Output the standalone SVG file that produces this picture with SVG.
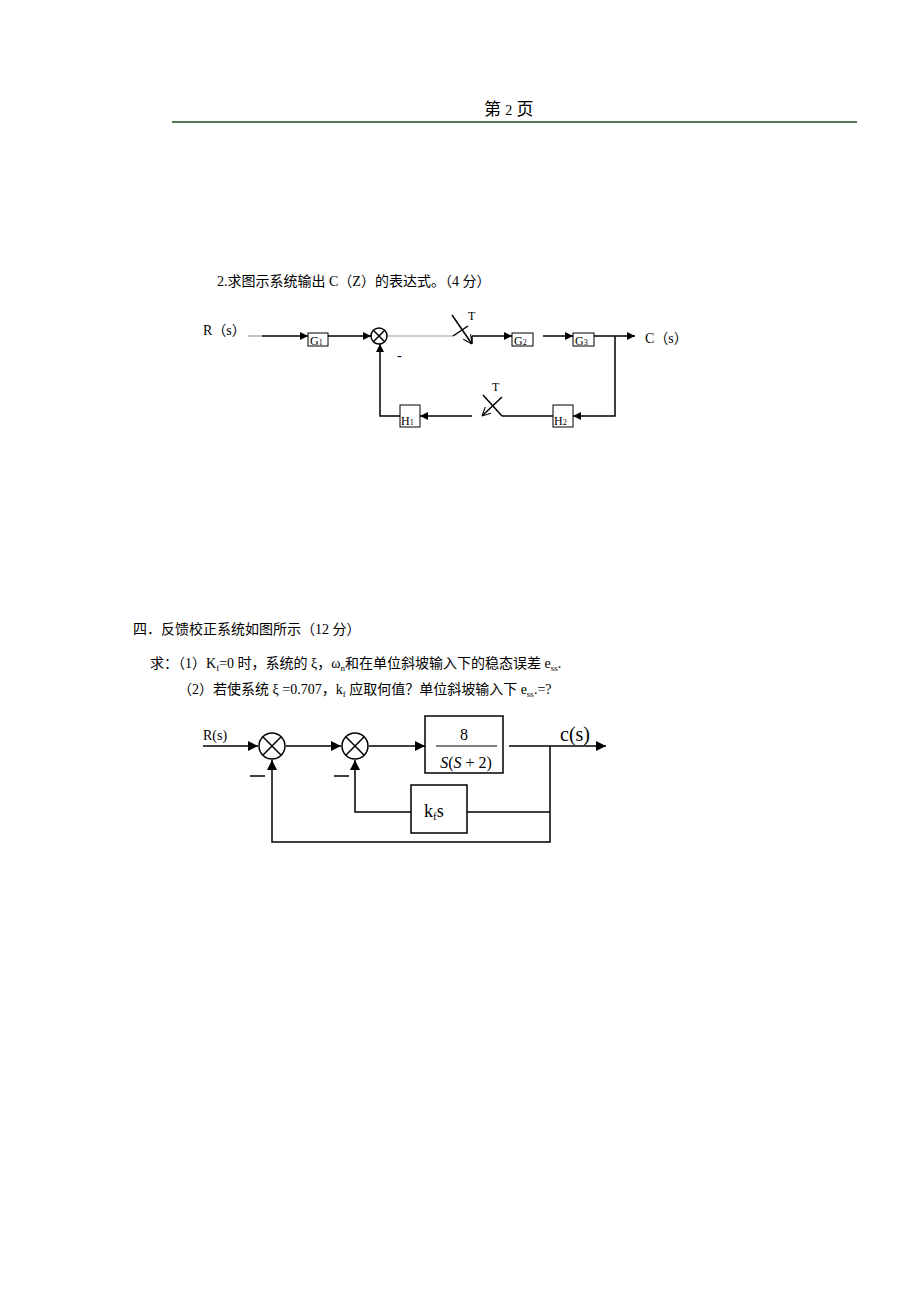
<svg xmlns="http://www.w3.org/2000/svg" width="920" height="1302" viewBox="0 0 920 1302">
<style>
text{font-family:"Liberation Serif","Noto Sans CJK SC",serif;fill:#000}
.t{font-size:14px}
.ln{stroke:#000;stroke-width:1.5;fill:none}
.g{stroke:#999;stroke-width:1.2;fill:none}
.bx{fill:#fff;stroke:#000;stroke-width:1}
.bx2{fill:#fff;stroke:#000;stroke-width:1.5}
.lb{font-size:12px}
</style>
<defs>
<marker id="a" viewBox="0 0 10 10" refX="10" refY="5" markerWidth="8" markerHeight="8" markerUnits="userSpaceOnUse" orient="auto"><path d="M0,0L10,5L0,10z" fill="#000"/></marker>
<marker id="b" viewBox="0 0 10 10" refX="10" refY="5" markerWidth="10" markerHeight="10" markerUnits="userSpaceOnUse" orient="auto"><path d="M0,0L10,5L0,10z" fill="#000"/></marker>
<marker id="v" viewBox="0 0 10 10" refX="10" refY="5" markerWidth="9" markerHeight="9" markerUnits="userSpaceOnUse" orient="auto"><path d="M0,0L10,5L0,10" fill="none" stroke="#000" stroke-width="1.2"/></marker>
</defs>
<text x="484" y="115" font-size="17">第 <tspan font-size="14">2</tspan> 页</text>
<line x1="172" y1="122" x2="857" y2="122" stroke="#1a4d1a" stroke-width="1.5"/>
<text class="t" x="217" y="286">2.求图示系统输出 C（Z）的表达式。（4 分）</text>
<g id="conn1">
<line class="g" x1="248" y1="336" x2="262" y2="336"/>
<line class="ln" x1="262" y1="336" x2="308" y2="336" marker-end="url(#a)"/>
<line class="ln" x1="328" y1="336" x2="371" y2="336" marker-end="url(#a)"/>
<line class="g" x1="387" y1="336" x2="453" y2="336"/>
<line class="ln" x1="472" y1="336" x2="512" y2="336" marker-end="url(#a)"/>
<line class="ln" x1="543" y1="336" x2="573" y2="336" marker-end="url(#a)"/>
<line class="ln" x1="594" y1="336" x2="635" y2="336" marker-end="url(#a)"/>
<polyline class="ln" points="615,336 615,416 573,416" marker-end="url(#a)"/>
<line class="ln" x1="553" y1="416" x2="502" y2="416" stroke-width="1"/>
<line class="ln" x1="472" y1="416" x2="420" y2="416" marker-end="url(#a)"/>
<polyline class="ln" points="400,416 380,416 380,344" marker-end="url(#a)"/>
</g>
<g id="s1"><line class="ln" x1="453" y1="336" x2="468" y2="326" stroke-width="1"/><line class="ln" x1="452" y1="315" x2="472" y2="344" marker-end="url(#v)"/><line class="ln" x1="472" y1="336" x2="472" y2="343" stroke-width="1"/><text class="lb" x="468" y="320">T</text></g>
<g id="s2"><line class="ln" x1="502" y1="397" x2="482" y2="416" marker-end="url(#v)"/><line class="ln" x1="483" y1="395" x2="502" y2="416" stroke-width="1"/><text class="lb" x="492" y="391">T</text></g>
<g id="sum1"><circle cx="379" cy="336" r="8" class="bx2"/><path class="ln" d="M373.3,330.3L384.7,341.7M384.7,330.3L373.3,341.7" stroke-width="1.2"/><text x="397" y="360" font-size="14">-</text></g>
<g id="G1"><rect class="bx" x="308" y="333" width="20" height="13"/><text class="lb" x="310" y="345">G<tspan font-size="8">1</tspan></text></g>
<g id="G2"><rect class="bx" x="512" y="333" width="21" height="13"/><text class="lb" x="514" y="345">G<tspan font-size="8">2</tspan></text></g>
<g id="G3"><rect class="bx" x="573" y="333" width="21" height="13"/><text class="lb" x="575" y="345">G<tspan font-size="8">3</tspan></text></g>
<g id="H1"><rect class="bx" x="400" y="405" width="20" height="22"/><text class="lb" x="401" y="425">H<tspan font-size="8">1</tspan></text></g>
<g id="H2"><rect class="bx" x="553" y="405" width="20" height="22"/><text class="lb" x="554" y="425">H<tspan font-size="8">2</tspan></text></g>
<text class="t" x="203" y="335">R（s）</text>
<text class="t" x="645" y="343">C（s）</text>

<text class="t" x="133" y="634">四．反馈校正系统如图所示（12 分）</text>
<text class="t" x="150" y="668">求：（1）K<tspan font-size="9" dy="3">f</tspan><tspan dy="-3">=0 时，系统的 ξ，ω</tspan><tspan font-size="9" dy="3">n</tspan><tspan dy="-3">和在单位斜坡输入下的稳态误差 e</tspan><tspan font-size="9" dy="3">ss</tspan><tspan dy="-3">.</tspan></text>
<text class="t" x="178" y="694">（2）若使系统 ξ =0.707，k<tspan font-size="9" dy="3">f</tspan><tspan dy="-3"> 应取何值？单位斜坡输入下 e</tspan><tspan font-size="9" dy="3">ss</tspan><tspan dy="-3">.=?</tspan></text>
<g id="conn2">
<line class="ln" x1="203" y1="746" x2="258" y2="746" marker-end="url(#b)"/>
<line class="ln" x1="286" y1="746" x2="341" y2="746" marker-end="url(#b)"/>
<line class="ln" x1="369" y1="746" x2="425" y2="746" marker-end="url(#b)"/>
<line class="ln" x1="509" y1="746" x2="606" y2="746" marker-end="url(#b)"/>
<polyline class="ln" points="550,746 550,842 272,842 272,760" marker-end="url(#b)"/>
<line class="ln" x1="550" y1="812" x2="467" y2="812"/>
<polyline class="ln" points="411,812 355,812 355,760" marker-end="url(#b)"/>
</g>
<g id="sumA"><circle cx="272" cy="746" r="13" class="bx2"/><path class="ln" d="M262.8,736.8L281.2,755.2M281.2,736.8L262.8,755.2"/><line class="ln" x1="250" y1="776" x2="265" y2="776"/></g>
<g id="sumB"><circle cx="355" cy="746" r="13" class="bx2"/><path class="ln" d="M345.8,736.8L364.2,755.2M364.2,736.8L345.8,755.2"/><line class="ln" x1="334" y1="776" x2="349" y2="776"/></g>
<g id="plant"><rect class="bx2" x="425" y="716" width="78" height="57"/><text x="464" y="740" font-size="16" text-anchor="middle">8</text><line x1="436" y1="746" x2="497" y2="746" stroke="#000" stroke-width="1"/><text x="466" y="768" font-size="16" text-anchor="middle"><tspan font-style="italic">S</tspan>(<tspan font-style="italic">S</tspan> + 2)</text></g>
<g id="kf"><rect class="bx2" x="411" y="785" width="56" height="48"/><text x="424" y="817" font-size="18">k<tspan font-size="11" dy="3">f</tspan><tspan dy="-3">s</tspan></text></g>
<text x="203" y="740" font-size="14">R(s)</text>
<text x="560" y="741" font-size="20">c(s)</text>
</svg>
